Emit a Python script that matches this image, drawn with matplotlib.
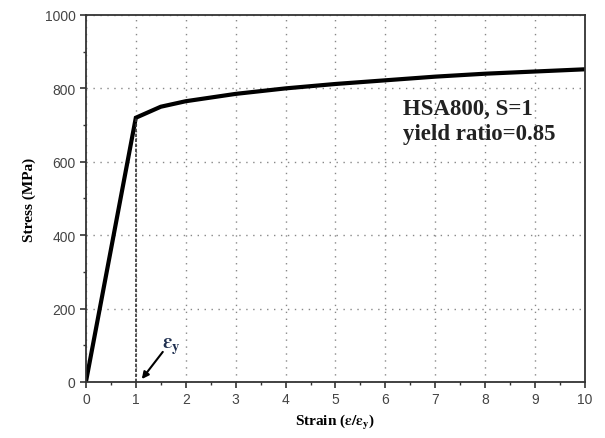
import numpy as np
import matplotlib.pyplot as plt
from matplotlib.ticker import MultipleLocator

# stress-strain curve
strain = [0, 1, 1.5, 2, 3, 4, 5, 6, 7, 8, 9, 10]
stress = [0, 720, 750, 765, 785, 800, 812, 822, 832, 840, 846, 852]
yield_strain = 1
yield_stress = 720


def main():
    plt.rcParams['mathtext.fontset'] = 'stix'
    fig = plt.figure(figsize=(6.05, 4.39), dpi=100)
    ax = fig.add_axes([0.142, 0.1276, 0.825, 0.836])

    ax.plot(strain, stress, color='black', linewidth=3, solid_joinstyle='miter')
    ax.plot([yield_strain, yield_strain], [0, yield_stress], color='#333333',
            linestyle=(0, (2, 1)), linewidth=1.2)

    ax.set_xlim(0, 10)
    ax.set_ylim(0, 1000)
    ax.xaxis.set_major_locator(MultipleLocator(1))
    ax.xaxis.set_minor_locator(MultipleLocator(0.5))
    ax.yaxis.set_major_locator(MultipleLocator(200))
    ax.yaxis.set_minor_locator(MultipleLocator(100))
    ax.grid(True, which='major', color='#888888', linestyle=(0, (1, 4)), linewidth=1)

    ax.tick_params(which='major', direction='out', length=4, width=1.2,
                   labelsize=10, labelcolor='#444444', color='#333333')
    ax.tick_params(which='minor', direction='out', length=2.5, width=1.0, color='#333333')
    for lbl in ax.get_xticklabels() + ax.get_yticklabels():
        lbl.set_family('Liberation Sans')
    for sp in ax.spines.values():
        sp.set_linewidth(1.3)
        sp.set_color('#333333')

    ax.set_xlabel(r'Strain ($\mathbf{\varepsilon/\varepsilon_y}$)', fontsize=11,
                  fontweight='bold', family='Liberation Serif', labelpad=4)
    ax.set_ylabel('Stress (MPa)', fontsize=11, fontweight='bold',
                  family='Liberation Serif', labelpad=6)

    ax.text(6.35, 775, 'HSA800, S=1\nyield ratio=0.85', fontsize=16.5,
            fontweight='bold', family='Liberation Serif', color='#222222',
            linespacing=1.25, va='top')

    ax.text(1.52, 92, r'$\mathbf{\varepsilon_y}$', fontsize=15, color='#1f2f4f')
    ax.annotate('', xy=(1.12, 8), xytext=(1.54, 82),
                arrowprops=dict(arrowstyle='-|>', color='black', lw=1.5,
                                shrinkA=0, shrinkB=0, mutation_scale=10))

    plt.savefig('out.png', dpi=100)
    plt.close()


if __name__ == "__main__":
    main()
